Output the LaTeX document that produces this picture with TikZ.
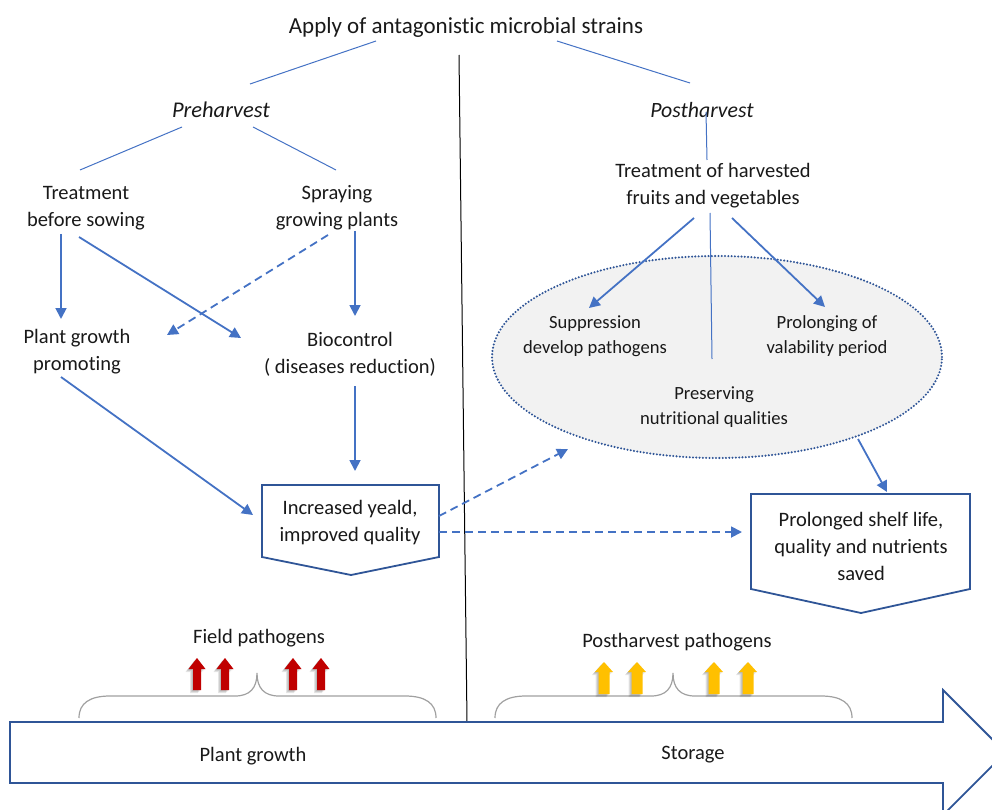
\documentclass[tikz,border=0pt]{standalone}
\usepackage{fontspec}
\setmainfont{Carlito}[Ligatures=NoCommon]
\usetikzlibrary{arrows.meta,shapes.geometric}
\definecolor{ablue}{HTML}{4472C4}
\definecolor{dblue}{HTML}{2F5597}
\definecolor{lgray}{HTML}{F2F2F2}
\definecolor{bgray}{HTML}{A0A0A0}
\definecolor{pred}{HTML}{C00000}
\definecolor{pyel}{HTML}{FFC000}
\tikzset{
  txt/.style={inner sep=0pt, align=center, text=black!90, font=\fontsize{20.5}{27}\selectfont},
  smalltxt/.style={inner sep=0pt, align=center, text=black!90, font=\fontsize{18.6}{25}\selectfont},
  thinline/.style={draw=ablue, line width=1pt},
  arr/.style={draw=ablue, line width=1.8pt, -{Triangle[length=11pt,width=11pt]}},
  darr/.style={arr, dash pattern=on 8pt off 5pt},
  boxst/.style={draw=dblue, line width=1.8pt, fill=white, line join=miter},
  bracest/.style={draw=bgray, line width=1.2pt},
  shadowst/.style={fill=black, opacity=0.10},
}
\begin{document}
\begin{tikzpicture}[x=1pt,y=-1pt]
\useasboundingbox (0,0) rectangle (992,810);
\clip (0,0) rectangle (992,810);

% divider
\coordinate (vtop) at (459,55);
\coordinate (vbot) at (467,722);
\draw[black, line width=1pt] (vtop) -- (vbot);

% texts
\node[txt, font=\fontsize{23}{28}\selectfont] (title) at (466,27) {Apply of antagonistic microbial strains};
\node[txt, font=\fontsize{22.5}{27}\selectfont\itshape] (pre) at (221,110) {Preharvest};
\node[txt, font=\fontsize{21.8}{27}\selectfont\itshape] (post) at (702,110) {Postharvest};
\node[txt] (treat) at (86,208) {Treatment\\before sowing};
\node[txt] (spray) at (337,208) {Spraying\\growing plants};
\node[txt] (harv) at (713,186) {Treatment of harvested\\fruits and vegetables};
\node[txt] (pgp) at (77,352) {Plant growth\\promoting};
\node[txt] (bio) at (350,354) {Biocontrol\\( diseases reduction)};

% ellipse
\node[ellipse, draw=dblue, fill=lgray, line width=2.3pt, line cap=round, dash pattern=on 0pt off 3.3pt,
      minimum width=450pt, minimum height=202pt, inner sep=0pt] (ell) at (717,357) {};
\node[smalltxt] (supp) at (595,336) {Suppression\\develop pathogens};
\node[smalltxt] (prol) at (827,336) {Prolonging of\\valability period};
\node[smalltxt] (pres) at (714,407) {Preserving\\nutritional qualities};

% pentagon boxes
\draw[boxst] (262,485) -- (439,485) -- (439,557) -- (351,575) -- (262,557) -- cycle;
\node[txt] (inc) at (350,523) {Increased yeald,\\improved quality};
\draw[boxst] (751,494) -- (970,494) -- (970,589) -- (861,613) -- (751,589) -- cycle;
\node[txt] (shelf) at (861,546) {Prolonged shelf life,\\quality and nutrients\\saved};

% thin tree lines
\coordinate (t1a) at (376,41); \coordinate (t1b) at (250,84);
\coordinate (t2a) at (557,41); \coordinate (t2b) at (690,83);
\coordinate (p1a) at (182,127); \coordinate (p1b) at (80,170);
\coordinate (p2a) at (253,127); \coordinate (p2b) at (336,170);
\coordinate (q1a) at (706,112); \coordinate (q1b) at (707,160);
\coordinate (m1a) at (710,213); \coordinate (m1b) at (712,359);
\draw[thinline] (t1a) -- (t1b);
\draw[thinline] (t2a) -- (t2b);
\draw[thinline] (p1a) -- (p1b);
\draw[thinline] (p2a) -- (p2b);
\draw[thinline] (q1a) -- (q1b);
\draw[thinline] (m1a) -- (m1b);

% arrows
\coordinate (a1s) at (61,234);  \coordinate (a1e) at (61,319);
\coordinate (a2s) at (79,237);  \coordinate (a2e) at (241,338);
\coordinate (a3s) at (328,235); \coordinate (a3e) at (167,335);
\coordinate (a4s) at (355,231); \coordinate (a4e) at (355,316);
\coordinate (a5s) at (61,377);  \coordinate (a5e) at (253,515);
\coordinate (a6s) at (355,386); \coordinate (a6e) at (355,471);
\coordinate (a7s) at (439,516); \coordinate (a7e) at (568,449);
\coordinate (a8s) at (439,532); \coordinate (a8e) at (742,532);
\coordinate (a9s) at (694,218); \coordinate (a9e) at (589,308);
\coordinate (a10s) at (732,218); \coordinate (a10e) at (825,307);
\coordinate (a11s) at (858,439); \coordinate (a11e) at (887,492);
\draw[arr] (a1s) -- (a1e);
\draw[arr] (a2s) -- (a2e);
\draw[darr] (a3s) -- (a3e);
\draw[arr] (a4s) -- (a4e);
\draw[arr] (a5s) -- (a5e);
\draw[arr] (a6s) -- (a6e);
\draw[darr] (a7s) -- (a7e);
\draw[darr] (a8s) -- (a8e);
\draw[arr] (a9s) -- (a9e);
\draw[arr] (a10s) -- (a10e);
\draw[arr] (a11s) -- (a11e);

% bottom labels
\node[txt] (field) at (259,638) {Field pathogens};
\node[txt] (phpath) at (677,642) {Postharvest pathogens};

% braces
\draw[bracest] (79,718) .. controls (79,703) and (90,696) .. (110,696) -- (235,696)
  .. controls (250,696) and (257,688) .. (257,673)
  .. controls (257,688) and (264,696) .. (279,696) -- (405,696)
  .. controls (425,696) and (436,703) .. (436,718);
\draw[bracest] (495,718) .. controls (495,703) and (506,696) .. (526,696) -- (651,696)
  .. controls (666,696) and (673,688) .. (673,673)
  .. controls (673,688) and (680,696) .. (695,696) -- (821,696)
  .. controls (841,696) and (852,703) .. (852,718);

% red pathogen arrows
\foreach \x in {197,225,293,321}{
  \foreach \d in {1,2,3}{
    \fill[shadowst] (\x-4-\d,690+\d) -- (\x-4-\d,669+\d) -- (\x-8.5-\d,669+\d) -- (\x-\d,658+\d) -- (\x+8.5-\d,669+\d) -- (\x+4-\d,669+\d) -- (\x+4-\d,690+\d) -- cycle;
  }
  \fill[pred] (\x-4,690) -- (\x-4,669) -- (\x-8.5,669) -- (\x,658) -- (\x+8.5,669) -- (\x+4,669) -- (\x+4,690) -- cycle;
}
% yellow pathogen arrows
\foreach \x in {604,637,714,748}{
  \foreach \d in {1,2,3}{
    \fill[shadowst] (\x-5.5-\d,694+\d) -- (\x-5.5-\d,672+\d) -- (\x-9-\d,672+\d) -- (\x-\d,662+\d) -- (\x+9-\d,672+\d) -- (\x+5.5-\d,672+\d) -- (\x+5.5-\d,694+\d) -- cycle;
  }
  \fill[pyel] (\x-5.5,694) -- (\x-5.5,672) -- (\x-9,672) -- (\x,662) -- (\x+9,672) -- (\x+5.5,672) -- (\x+5.5,694) -- cycle;
}

% big timeline arrow
\draw[boxst] (10,722) -- (943,722) -- (943,690) -- (1005.5,752.5) -- (943,815) -- (943,783) -- (10,783) -- cycle;
\node[txt] (pgrow) at (253,756) {Plant growth};
\node[txt] (stor) at (693,755) {Storage};
\end{tikzpicture}
\end{document}
